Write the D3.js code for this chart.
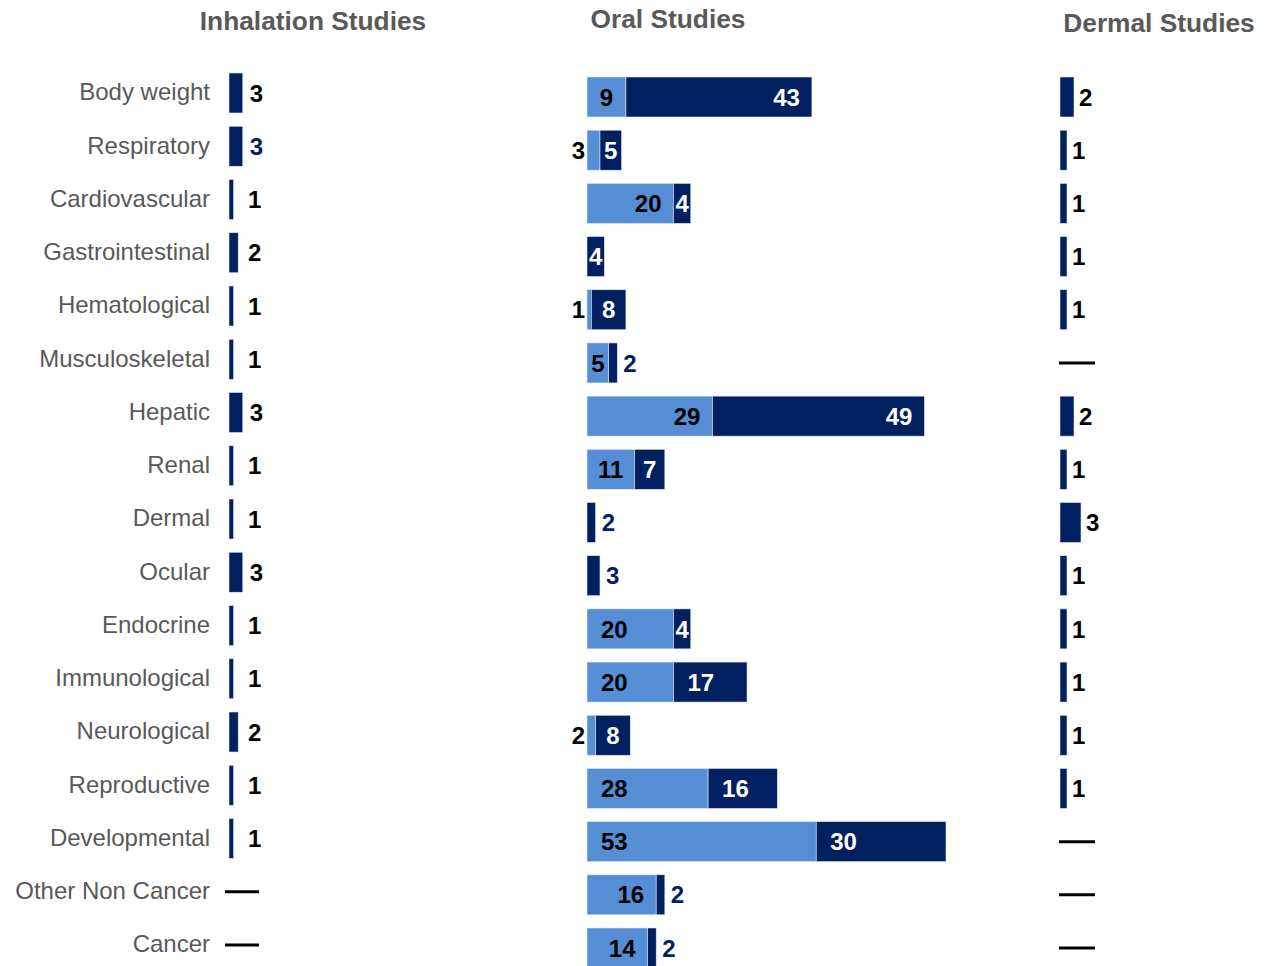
<!DOCTYPE html>
<html>
<head>
<meta charset="utf-8">
<script src="https://cdn.jsdelivr.net/npm/d3@7"></script>
<style>
  html, body { margin: 0; padding: 0; background: #fff; }
  svg { display: block; font-family: "Liberation Sans", Arial, sans-serif; }
</style>
</head>
<body>
<svg id="chart" width="1267" height="966"></svg>
<script>
// Endpoints examined in each route of exposure
const categories = [
  "Body weight", "Respiratory", "Cardiovascular", "Gastrointestinal",
  "Hematological", "Musculoskeletal", "Hepatic", "Renal", "Dermal",
  "Ocular", "Endocrine", "Immunological", "Neurological", "Reproductive",
  "Developmental", "Other Non Cancer", "Cancer"
];

// Study counts (null = no studies)
const inhalation = [3, 3, 1, 2, 1, 1, 3, 1, 1, 3, 1, 1, 2, 1, 1, null, null];
const oralA      = [9, 3, 20, 0, 1, 5, 29, 11, 0, 0, 20, 20, 2, 28, 53, 16, 14];
const oralB      = [43, 5, 4, 4, 8, 2, 49, 7, 2, 3, 4, 17, 8, 16, 30, 2, 2];
const dermal     = [2, 1, 1, 1, 1, null, 2, 1, 3, 1, 1, 1, 1, 1, null, null, null];

// Where each oral value label sits relative to its segment
const oralALabelPos = ["center", "outsideStart", "insideEnd", null, "outsideStart", "center",
  "insideEnd", "center", null, null, "insideStart", "insideStart", "outsideStart",
  "insideStart", "insideStart", "insideEnd", "insideEnd"];
const oralBLabelPos = ["insideEnd", "center", "center", "center", "center", "outsideEnd",
  "insideEnd", "center", "outsideEnd", "outsideEnd", "center", "insideStart", "center",
  "insideStart", "insideStart", "outsideEnd", "outsideEnd"];
const inhalationLabelTone = ["dark", "navy", "dark", "dark", "dark", "dark", "dark", "dark",
  "dark", "dark", "dark", "dark", "dark", "dark", "dark", null, null];

const panelTitles = ["Inhalation Studies", "Oral Studies", "Dermal Studies"];

const NAVY = "#002060";
const LIGHT = "#558ed5";
const GREY = "#595959";
const BAR_H = 40;

const svg = d3.select("#chart");

// Row positions for each panel
const yInh = d3.scalePoint().domain(categories).range([93, 945]);
const yOral = d3.scalePoint().domain(categories).range([97, 948]);
const yDer = d3.scalePoint().domain(categories).range([97, 948]);

// Horizontal scales, one per panel
const xInh = d3.scaleLinear().domain([0, 10]).range([229, 275]);
const xOral = d3.scaleLinear().domain([0, 83]).range([587, 946]);
const xDer = d3.scaleLinear().domain([0, 3]).range([1060, 1081]);

// Titles
const titleX = [313, 668, 1159];
const titleY = [30, 28, 32];
svg.selectAll("text.title").data(panelTitles).join("text")
  .attr("class", "title")
  .attr("x", (d, i) => titleX[i])
  .attr("y", (d, i) => titleY[i])
  .attr("text-anchor", "middle")
  .attr("font-size", 26.3)
  .attr("font-weight", "bold")
  .attr("fill", GREY)
  .text(d => d);

// Category labels
svg.append("g").selectAll("text").data(categories).join("text")
  .attr("x", 210)
  .attr("y", d => yInh(d) - 1)
  .attr("dy", "0.35em")
  .attr("text-anchor", "end")
  .attr("font-size", 24)
  .attr("fill", GREY)
  .text(d => d);

const VALUE_SIZE = 24;

function valueText(g, x, y, txt, anchor, color) {
  g.append("text")
    .attr("x", x).attr("y", y).attr("dy", "0.36em")
    .attr("text-anchor", anchor)
    .attr("font-size", VALUE_SIZE)
    .attr("font-weight", "bold")
    .attr("fill", color)
    .text(txt);
}

function dash(g, x1, x2, y) {
  g.append("line")
    .attr("x1", x1).attr("x2", x2).attr("y1", y).attr("y2", y)
    .attr("stroke", "#000").attr("stroke-width", 3);
}

// Single-series panel (inhalation / dermal)
function singlePanel(values, x, y, pad, minOffset, dashFrom, dashTo, tones) {
  const g = svg.append("g");
  categories.forEach((c, i) => {
    const v = values[i];
    const cy = y(c);
    if (v === null) {
      dash(g, x(0) + dashFrom, x(0) + dashTo, cy);
      return;
    }
    g.append("rect")
      .attr("x", x(0)).attr("y", cy - BAR_H / 2)
      .attr("width", x(v) - x(0)).attr("height", BAR_H)
      .attr("fill", NAVY)
      .attr("stroke", "#dfe6f2").attr("stroke-width", 0.6);
    const tone = tones ? tones[i] : "dark";
    const lx = Math.max(x(v) + pad, x(0) + minOffset);
    valueText(g, lx, cy, v, "start", tone === "navy" ? NAVY : "#000");
  });
}

singlePanel(inhalation, xInh, yInh, 7, 19, -4, 30, inhalationLabelTone);
singlePanel(dermal, xDer, yDer, 5, 0, -1, 35, null);

// Oral panel: stacked segments
const oralG = svg.append("g");
function placeLabel(pos, x0, x1, cy, v, insideColor) {
  if (pos === null || v === 0) return;
  if (pos === "center") valueText(oralG, (x0 + x1) / 2, cy, v, "middle", insideColor);
  else if (pos === "insideEnd") valueText(oralG, x1 - 12, cy, v, "end", insideColor);
  else if (pos === "insideStart") valueText(oralG, x0 + 14, cy, v, "start", insideColor);
  else if (pos === "outsideStart") valueText(oralG, x0 - 2, cy, v, "end", "#000");
  else if (pos === "outsideEnd") valueText(oralG, x1 + 6, cy, v, "start", NAVY);
}

categories.forEach((c, i) => {
  const cy = yOral(c);
  const a = oralA[i], b = oralB[i];
  const xa0 = xOral(0), xa1 = xOral(a), xb1 = xOral(a + b);
  if (a > 0) {
    oralG.append("rect")
      .attr("x", xa0).attr("y", cy - BAR_H / 2)
      .attr("width", xa1 - xa0).attr("height", BAR_H)
      .attr("fill", LIGHT)
      .attr("stroke", "#e3ecf7").attr("stroke-width", 0.6);
  }
  oralG.append("rect")
    .attr("x", xa1).attr("y", cy - BAR_H / 2)
    .attr("width", xb1 - xa1).attr("height", BAR_H)
    .attr("fill", NAVY)
    .attr("stroke", "#dfe6f2").attr("stroke-width", 0.6);
  placeLabel(oralALabelPos[i], xa0, xa1, cy, a, "#000");
  placeLabel(oralBLabelPos[i], xa1, xb1, cy, b, "#fff");
});
</script>
</body>
</html>
